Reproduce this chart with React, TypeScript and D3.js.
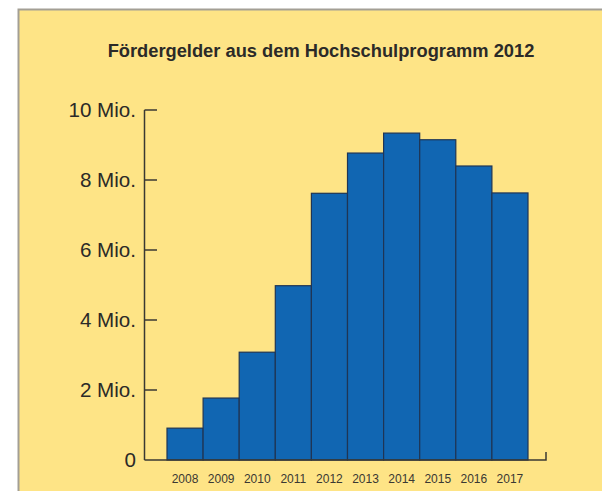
import React, { useEffect, useRef } from "react";
import * as d3 from "d3";

const years = ["2008", "2009", "2010", "2011", "2012", "2013", "2014", "2015", "2016", "2017"];
const values = [0.91, 1.77, 3.08, 4.98, 7.62, 8.77, 9.34, 9.15, 8.4, 7.63];
const yTicks = [0, 2, 4, 6, 8, 10];
const title = "Fördergelder aus dem Hochschulprogramm 2012";

const App = () => {
  const chart = useRef<SVGSVGElement>(null);

  useEffect(() => {
    const width = 602;
    const height = 491;
    const svg = d3.select(chart.current).attr("width", width).attr("height", height);
    svg.selectAll("*").remove();

    // yellow panel with grey top/left edge
    svg.append("rect")
      .attr("x", 18).attr("y", 9).attr("width", width).attr("height", height)
      .attr("fill", "#fee486");
    svg.append("path")
      .attr("d", "M18.5,491V9.5H602")
      .attr("fill", "none").attr("stroke", "#a39f95").attr("stroke-width", 2);

    svg.append("text")
      .attr("x", 321).attr("y", 57)
      .attr("text-anchor", "middle")
      .attr("font-family", "Liberation Sans, Arial, sans-serif")
      .attr("font-weight", "bold").attr("font-size", 18.3)
      .attr("fill", "#2b2a28")
      .text(title);

    const axisX = 144.5;
    const axisEnd = 546;
    const y = d3.scaleLinear().domain([0, 10]).range([460, 110]);
    const x = d3.scaleBand().domain(years).range([167, 528]).padding(0);

    svg.append("g")
      .selectAll("rect")
      .data(values)
      .join("rect")
        .attr("x", (d, i) => x(years[i])!)
        .attr("y", d => y(d))
        .attr("width", x.bandwidth())
        .attr("height", d => y(0) - y(d))
        .attr("fill", "#1166b2")
        .attr("stroke", "#1f3555")
        .attr("stroke-width", 1.2);

    const ink = "#3a3833";

    // y axis: line plus inward ticks
    svg.append("line")
      .attr("x1", axisX).attr("x2", axisX).attr("y1", y(10)).attr("y2", y(0))
      .attr("stroke", ink).attr("stroke-width", 1.5);
    svg.append("g")
      .selectAll("line")
      .data(yTicks.filter(t => t > 0))
      .join("line")
        .attr("x1", axisX).attr("x2", 157)
        .attr("y1", d => y(d)).attr("y2", d => y(d))
        .attr("stroke", ink).attr("stroke-width", 1.5);
    svg.append("g")
      .selectAll("text")
      .data(yTicks)
      .join("text")
        .attr("x", 136)
        .attr("y", d => y(d) + 7)
        .attr("text-anchor", "end")
        .attr("font-family", "Liberation Sans, Arial, sans-serif")
        .attr("font-size", 20.6)
        .attr("fill", "#2b2a28")
        .text(d => (d === 0 ? "0" : d + " Mio."));

    // x axis with end tick
    svg.append("path")
      .attr("d", `M${axisX},${y(0)}H${axisEnd}V${y(0) - 8}`)
      .attr("fill", "none").attr("stroke", ink).attr("stroke-width", 1.5);

    svg.append("g")
      .selectAll("text")
      .data(years)
      .join("text")
        .attr("x", d => x(d)! + x.bandwidth() / 2)
        .attr("y", 483)
        .attr("text-anchor", "middle")
        .attr("font-family", "Liberation Sans, Arial, sans-serif")
        .attr("font-size", 12)
        .attr("fill", "#3a3833")
        .text(d => d);
  }, []);

  return (
    <div style={{ position: "absolute", left: 0, top: 0 }}>
      <svg ref={chart} style={{ display: "block" }} />
    </div>
  );
};

export default App;
